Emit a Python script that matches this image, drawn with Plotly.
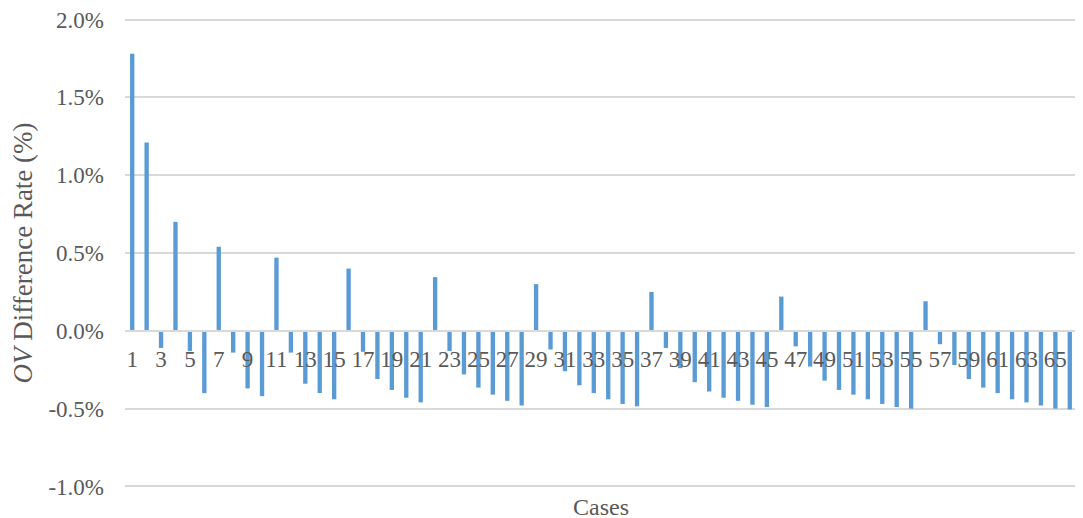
import plotly.graph_objects as go

cases = list(range(1, 67))
diff_rate = [
    1.78, 1.21, -0.11, 0.70, -0.13, -0.40, 0.54, -0.14, -0.37, -0.42,
    0.47, -0.14, -0.34, -0.40, -0.44, 0.40, -0.135, -0.31, -0.38, -0.43,
    -0.46, 0.345, -0.13, -0.28, -0.365, -0.41, -0.45, -0.48, 0.30, -0.12,
    -0.26, -0.35, -0.40, -0.44, -0.47, -0.485, 0.25, -0.11, -0.24, -0.33,
    -0.39, -0.43, -0.45, -0.475, -0.49, 0.22, -0.10, -0.23, -0.32, -0.38,
    -0.41, -0.44, -0.47, -0.49, -0.50, 0.19, -0.086, -0.22, -0.31, -0.365,
    -0.40, -0.44, -0.46, -0.48, -0.50, -0.505,
]
values = [v / 100 for v in diff_rate]
x_tick_vals = list(range(1, 67, 2))
x_tick_text = [str(v) for v in x_tick_vals]
y_tick_vals = [-0.010, -0.005, 0.0, 0.005, 0.010, 0.015, 0.020]
y_tick_text = ["-1.0%", "-0.5%", "0.0%", "0.5%", "1.0%", "1.5%", "2.0%"]

FONT = "Liberation Serif, Times New Roman, serif"
TXT = "#595959"
y_min, y_max = -0.0101, 0.0201

fig = go.Figure()
fig.add_trace(go.Bar(x=cases, y=values, marker=dict(color="#5B9BD5", line=dict(width=0)), width=0.3))

fig.update_layout(
    width=1083, height=518,
    margin=dict(l=117, r=14, t=10, b=38),
    paper_bgcolor="white", plot_bgcolor="white",
    showlegend=False,
    font=dict(family=FONT, color=TXT, size=24),
    xaxis=dict(
        range=[0.5, 66.5], automargin=False,
        tickmode="array", tickvals=x_tick_vals, ticktext=x_tick_text,
        tickangle=0,
        showgrid=False, zeroline=False,
        showline=True, linecolor="#D9D9D9", linewidth=2,
        anchor="free", position=(0 - y_min) / (y_max - y_min),
        ticks="", ticklabelstandoff=8,
        tickfont=dict(family=FONT, size=23, color=TXT),
    ),
    yaxis=dict(
        range=[y_min, y_max], automargin=False,
        tickmode="array", tickvals=y_tick_vals, ticktext=y_tick_text,
        showgrid=True, gridcolor="#D9D9D9", gridwidth=2,
        zeroline=False, showline=False, ticks="",
        ticklabelstandoff=20, ticklabeloverflow="allow",
        tickfont=dict(family=FONT, size=23, color=TXT),
        title=dict(text="<i>OV</i> Difference Rate (%)", font=dict(family=FONT, size=27, color=TXT), standoff=12),
    ),
    annotations=[dict(
        text="Cases", xref="paper", yref="paper", x=0.5, y=0,
        yshift=-4, xanchor="center", yanchor="top", showarrow=False,
        font=dict(family=FONT, size=24, color=TXT),
    )],
)

fig.write_html("out.html")
